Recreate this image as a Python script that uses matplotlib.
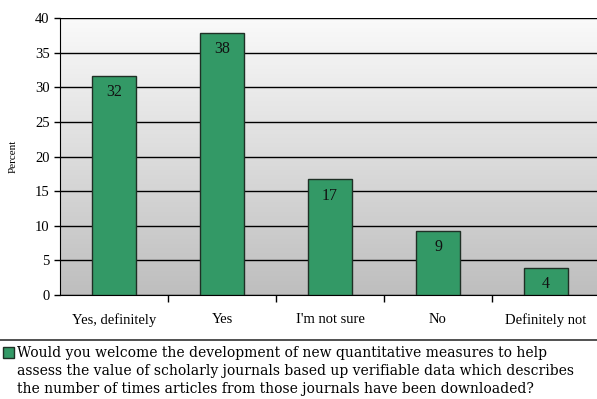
import numpy as np
import matplotlib.pyplot as plt
from matplotlib.colors import LinearSegmentedColormap

categories = ["Yes, definitely", "Yes", "I'm not sure", "No", "Definitely not"]
values = [31.6, 37.9, 16.7, 9.3, 3.9]
labels = ["32", "38", "17", "9", "4"]
legend_text = ("Would you welcome the development of new quantitative measures to help\n"
               "assess the value of scholarly journals based up verifiable data which describes\n"
               "the number of times articles from those journals have been downloaded?")

plt.rcParams['font.family'] = ['Liberation Serif', 'DejaVu Serif']

fig = plt.figure(figsize=(5.97, 3.99), dpi=100)
ax = fig.add_axes([60 / 597, (399 - 295) / 399, 540 / 597, 277 / 399])

# gradient background, grey at bottom to near white at top
grad = np.linspace(0, 1, 256).reshape(-1, 1)
bg = LinearSegmentedColormap.from_list("bg", ["#bebebe", "#fafafa"])
ax.imshow(grad, cmap=bg, aspect='auto', origin='lower',
          extent=[-0.5, 4.5, 0, 40], zorder=0)

x = np.arange(len(categories))
ax.bar(x, values, width=0.4, color="#339966", edgecolor="#1f2f25", linewidth=1, zorder=3)
for xi, v, lab in zip(x, values, labels):
    ax.text(xi, v - 1.2, lab, ha='center', va='top', fontsize=11.5, color='#111111', zorder=4)

ax.set_xlim(-0.5, 4.5)
ax.set_ylim(0, 40)
ax.set_yticks(range(0, 41, 5))
ax.tick_params(axis='y', labelsize=10.5, length=4, direction='out', width=1)
ax.set_xticks(x)
ax.set_xticklabels(categories, fontsize=10.5)
ax.tick_params(axis='x', length=0, pad=13)
ax.set_xticks(np.arange(0.5, 4.5, 1), minor=True)
ax.tick_params(axis='x', which='minor', length=5, direction='out', width=1)
ax.yaxis.grid(True, color='black', linewidth=1)
for gl in ax.get_ygridlines():
    gl.set_zorder(1)
for s in ['top', 'right']:
    ax.spines[s].set_visible(False)
ax.set_ylabel("Percent", fontsize=8, labelpad=12)

# legend area
fig.add_artist(plt.Line2D([0, 1], [(399 - 340) / 399] * 2, color='#333333', linewidth=1.2))
fig.add_artist(plt.Rectangle((3 / 597, (399 - 358) / 399), 11 / 597, 11 / 399,
                             facecolor="#339966", edgecolor="#1f2f25", linewidth=1))
fig.text(17 / 597, (399 - 346) / 399, legend_text, fontsize=10, va='top', ha='left',
         linespacing=1.38, family=['DejaVu Serif'])

fig.savefig("out.png", dpi=100)
